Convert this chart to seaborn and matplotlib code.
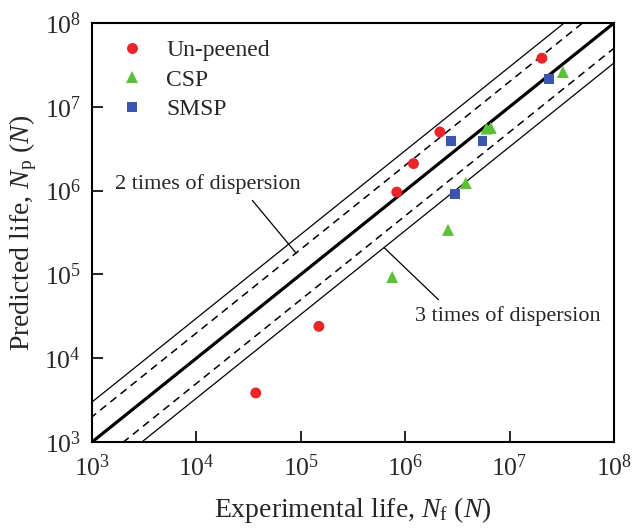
import numpy as np
import pandas as pd
import matplotlib
matplotlib.use("Agg")
import matplotlib.pyplot as plt
import seaborn as sns

# Global Settings
sns.set_theme(style="white")
plt.rcParams["font.family"] = ["Liberation Serif", "DejaVu Serif"]
plt.rcParams["mathtext.fontset"] = "custom"
plt.rcParams["mathtext.rm"] = "Liberation Serif"
plt.rcParams["mathtext.it"] = "Liberation Serif:italic"
plt.rcParams["mathtext.bf"] = "Liberation Serif:bold"

# Data (experimental life, predicted life)
unpeened_nf = [3.7e4, 1.49e5, 8.3e5, 1.2e6, 2.15e6, 2.04e7]
unpeened_np = [3.85e3, 2.4e4, 9.6e5, 2.1e6, 5.0e6, 3.8e7]
csp_nf = [7.5e5, 2.57e6, 3.8e6, 6.0e6, 6.6e6, 3.24e7]
csp_np = [9.3e4, 3.4e5, 1.23e6, 5.5e6, 5.6e6, 2.6e7]
smsp_nf = [2.75e6, 3.0e6, 5.5e6, 2.4e7]
smsp_np = [3.9e6, 9.1e5, 3.9e6, 2.15e7]

groups = ["Un-peened", "CSP", "SMSP"]
colors = ["#e8262a", "#5cbf3a", "#3a55b0"]
markers = ["o", "^", "s"]
marker_sizes = {"Un-peened": 62, "CSP": 75, "SMSP": 48}

df = pd.DataFrame({
    "Nf": unpeened_nf + csp_nf + smsp_nf,
    "Np": unpeened_np + csp_np + smsp_np,
    "group": [groups[0]] * len(unpeened_nf) + [groups[1]] * len(csp_nf) + [groups[2]] * len(smsp_nf),
})

fig = plt.figure(figsize=(6.36, 5.31), dpi=100)
ax = fig.add_axes([0.1447, 0.1676, 0.8207, 0.7891])

lims = (1e3, 1e8)
ax.set_xscale("log")
ax.set_yscale("log")

# scatter band lines: 1:1, factor 2 (dashed), factor 3 (thin solid)
xx = np.array([1e2, 1e9])
ax.plot(xx, xx, color="black", lw=2.3, zorder=2)
for f in (2, 3):
    if f == 2:
        kw = dict(lw=1.1, ls="--", dashes=(5, 3.5))
    else:
        kw = dict(lw=0.9, ls="-")
    ax.plot(xx, xx * f, color="black", zorder=2, **kw)
    ax.plot(xx, xx / f, color="black", zorder=2, **kw)

sns.scatterplot(data=df, x="Nf", y="Np", hue="group", style="group", size="group",
                hue_order=groups, style_order=groups, size_order=groups,
                palette=colors, markers=markers, sizes=marker_sizes, linewidth=0,
                ax=ax, zorder=3)

ax.set_xlim(lims)
ax.set_ylim(lims)

ax.annotate("2 times of dispersion", xy=(9.0e4, 1.8e5), xytext=(1.29e4, 1.2e6),
            ha="center", va="center", fontsize=16,
            arrowprops=dict(arrowstyle="-", color="black", lw=0.9, relpos=(0.71, 0.0), shrinkA=3, shrinkB=0))
ax.annotate("3 times of dispersion", xy=(6.27e5, 2.09e5), xytext=(9.66e6, 3.2e4),
            ha="center", va="center", fontsize=16,
            arrowprops=dict(arrowstyle="-", color="black", lw=0.9, relpos=(0.16, 1.0), shrinkA=3, shrinkB=0))

ax.set_xlabel("Experimental life, $N_\\mathrm{f}$ ($N$)", fontsize=20, labelpad=10)
ax.set_ylabel("Predicted life, $N_\\mathrm{p}$ ($N$)", fontsize=20, labelpad=4)

ax.set_xticks([1e3, 1e4, 1e5, 1e6, 1e7, 1e8])
ax.set_yticks([1e3, 1e4, 1e5, 1e6, 1e7, 1e8])
ax.minorticks_off()
ax.tick_params(axis="both", which="major", direction="in", length=8, width=1.2,
               labelsize=18.5, bottom=True, left=True, top=False, right=False, color="black")
ax.tick_params(axis="x", pad=9)
ax.tick_params(axis="y", pad=8)
for sp in ax.spines.values():
    sp.set_color("black")
    sp.set_linewidth(1.5)

sns.move_legend(ax, "upper left", bbox_to_anchor=(0.0, 1.0), title=None, frameon=False,
                fontsize=17, labelspacing=0.34, handletextpad=0.45, markerscale=1.0,
                borderaxespad=0.3)

fig.savefig("out.png", dpi=100)
